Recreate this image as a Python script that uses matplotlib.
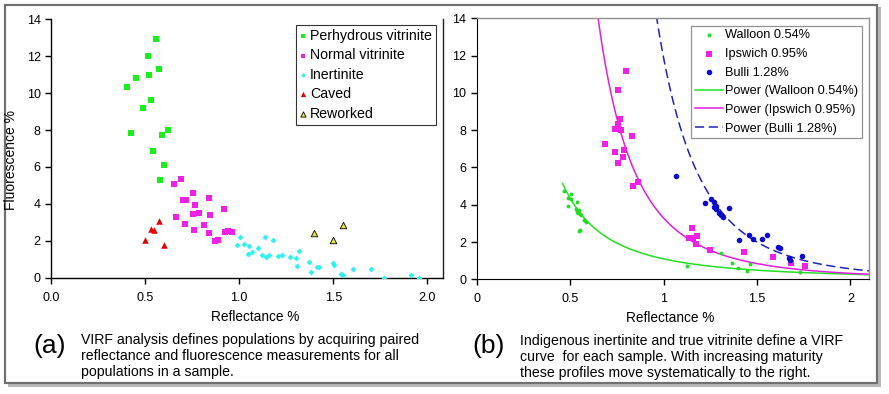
import numpy as np
import matplotlib
matplotlib.use("Agg")
import matplotlib.pyplot as plt
from matplotlib.patches import Rectangle

plt.rcParams['font.family'] = ['Liberation Sans', 'DejaVu Sans']

# ---- panel (a) data ----
perhyd_x = [0.558, 0.513, 0.574, 0.522, 0.450, 0.402, 0.529, 0.487, 0.425, 0.589,
            0.624, 0.540, 0.598, 0.577]
perhyd_y = [12.93, 12.0, 11.32, 11.0, 10.83, 10.35, 9.63, 9.21, 7.82, 7.73,
            8.0, 6.85, 6.10, 5.31]

normal_x = [0.653, 0.689, 0.752, 0.839, 0.699, 0.715, 0.766, 0.754, 0.788, 0.846,
            0.919, 0.666, 0.713, 0.761, 0.814, 0.839, 0.869, 0.885, 0.922, 0.942, 0.961]
normal_y = [5.09, 5.33, 4.60, 4.32, 4.19, 4.19, 3.92, 3.45, 3.50, 3.38,
            3.74, 3.29, 2.93, 2.60, 2.86, 2.42, 1.97, 2.04, 2.46, 2.51, 2.46]

inert_x = [1.004, 0.986, 1.027, 1.052, 1.046, 1.070, 1.100, 1.138, 1.180, 1.122,
           1.145, 1.159, 1.205, 1.225, 1.270, 1.303, 1.320, 1.306, 1.372, 1.383,
           1.411, 1.422, 1.497, 1.504, 1.541, 1.554, 1.604, 1.698, 1.772, 1.911, 1.956]
inert_y = [2.19, 1.79, 1.81, 1.70, 1.27, 1.38, 1.63, 2.20, 2.06, 1.23,
           1.14, 1.21, 1.16, 1.25, 1.12, 1.05, 1.46, 0.65, 0.85, 0.31,
           0.58, 0.58, 0.81, 0.69, 0.22, 0.15, 0.49, 0.49, 0.0, 0.16, 0.0]

caved_x = [0.501, 0.531, 0.549, 0.574, 0.602]
caved_y = [2.06, 2.65, 2.57, 3.07, 1.75]

rework_x = [1.397, 1.500, 1.551]
rework_y = [2.42, 2.04, 2.84]

# ---- panel (b) data ----
wall_x = [0.468, 0.487, 0.504, 0.503, 0.490, 0.536, 0.531, 0.549, 0.535, 0.551,
          0.542, 0.556, 0.583, 0.575, 0.551, 0.545, 1.128, 1.308, 1.365, 1.397,
          1.465, 1.449, 1.733]
wall_y = [4.74, 4.34, 4.58, 4.31, 3.95, 4.13, 3.77, 3.72, 3.59, 3.50,
          3.54, 3.45, 3.09, 3.18, 2.64, 2.59, 0.73, 1.39, 0.89, 0.62,
          0.80, 0.46, 0.41]

ips_x = [0.756, 0.797, 0.768, 0.756, 0.738, 0.772, 0.829, 0.686, 0.743, 0.789,
         0.784, 0.756, 0.838, 0.861, 1.155, 1.135, 1.159, 1.178, 1.173, 1.249,
         1.433, 1.584, 1.684, 1.759]
ips_y = [10.14, 11.17, 8.60, 8.33, 8.05, 7.99, 7.67, 7.26, 6.81, 6.94,
         6.54, 6.22, 5.00, 5.20, 2.74, 2.20, 2.22, 2.32, 1.89, 1.59,
         1.45, 1.21, 0.86, 0.73]

bulli_x = [1.066, 1.224, 1.255, 1.272, 1.269, 1.283, 1.297, 1.310, 1.321, 1.349,
           1.283, 1.404, 1.458, 1.481, 1.526, 1.556, 1.615, 1.624, 1.671, 1.676, 1.740]
bulli_y = [5.56, 4.09, 4.31, 4.16, 3.86, 3.76, 3.57, 3.47, 3.36, 3.84,
           3.95, 2.09, 2.36, 2.15, 2.15, 2.36, 1.72, 1.66, 1.14, 1.04, 1.25]

# power trendlines y = a * x^b (coefficients)
fit_labels = ['Power (Walloon 0.54%)', 'Power (Ipswich 0.95%)', 'Power (Bulli 1.28%)']
fit_a = [1.095, 3.29, 11.9]
fit_b = [-1.99, -3.36, -4.4]
fit_start = [0.46, 0.64, 0.95]

fig = plt.figure(figsize=(8.89, 3.94), dpi=100)
W, H = 889.0, 394.0

# outer frame with a soft shadow
fig.patches.append(Rectangle((8 / W, 1 - 387 / H), 873 / W, 380 / H, transform=fig.transFigure,
                             facecolor='#b8b8b8', edgecolor='none', zorder=0))
fig.patches.append(Rectangle((5 / W, 1 - 383 / H), 872 / W, 378 / H, transform=fig.transFigure,
                             facecolor='white', edgecolor='#707070', linewidth=1.6, zorder=1))

tick_kw = dict(labelsize=9, direction='out', length=4, width=1, colors='black')

# ---- panel (a) ----
ax1 = fig.add_axes([51 / W, 1 - 277.7 / H, (443 - 51) / W, (277.7 - 19.3) / H])
ax1.set_zorder(2)
ax1.scatter(perhyd_x, perhyd_y, marker='s', s=15, color='#19f019', linewidths=0,
            label='Perhydrous vitrinite', zorder=3)
ax1.scatter(normal_x, normal_y, marker='s', s=15, color='#f020e6', linewidths=0,
            label='Normal vitrinite', zorder=3)
ax1.scatter(inert_x, inert_y, marker='D', s=9, color='#30f0f0', linewidths=0,
            label='Inertinite', zorder=3)
ax1.scatter(caved_x, caved_y, marker='^', s=22, color='#e00000', linewidths=0,
            label='Caved', zorder=3)
ax1.scatter(rework_x, rework_y, marker='^', s=22, facecolor='#e6e640', edgecolor='black',
            linewidths=0.6, label='Reworked', zorder=3)
ax1.set_xlim(0, 2.083)
ax1.set_ylim(0, 14)
ax1.set_xticks([0, 0.5, 1.0, 1.5, 2.0])
ax1.set_xticklabels(['0.0', '0.5', '1.0', '1.5', '2.0'])
ax1.set_yticks(range(0, 15, 2))
ax1.tick_params(**tick_kw)
ax1.tick_params(axis='x', pad=6)
ax1.spines['top'].set_visible(False)
for s in ['left', 'bottom', 'right']:
    ax1.spines[s].set_linewidth(1.0)
ax1.spines['right'].set_color('#222222')
ax1.set_xlabel('Reflectance %', fontsize=9.8)
ax1.xaxis.set_label_coords(0.52, -0.125)
ax1.set_ylabel('Fluorescence %', fontsize=10)
ax1.yaxis.set_label_coords(-0.085, 0.455)
leg1 = ax1.legend(loc='upper right', bbox_to_anchor=(0.99, 0.99), fontsize=10.2,
                  frameon=True, fancybox=False, edgecolor='black', handlelength=0.4,
                  handletextpad=0.3, labelspacing=0.38, borderpad=0.3,
                  borderaxespad=0.2, markerscale=0.8)
leg1.get_frame().set_linewidth(0.8)

# ---- panel (b) ----
ax2 = fig.add_axes([476.7 / W, 1 - 279.3 / H, (869 - 476.7) / W, (279.3 - 18.3) / H])
ax2.set_zorder(2)
h_w = ax2.scatter(wall_x, wall_y, marker='o', s=8, color='#22dd22', linewidths=0,
                  label='Walloon 0.54%', zorder=3)
h_i = ax2.scatter(ips_x, ips_y, marker='s', s=16, color='#f020e6', linewidths=0,
                  label='Ipswich 0.95%', zorder=3)
h_b = ax2.scatter(bulli_x, bulli_y, marker='o', s=16, color='#0a0ad0', linewidths=0,
                  label='Bulli 1.28%', zorder=3)
fit_styles = [dict(color='#22e022', linestyle='-'),
              dict(color='#e020e0', linestyle='-'),
              dict(color='#2222b8', linestyle=(0, (6, 3)))]
fit_handles = []
for a, b, x0, lab, st in zip(fit_a, fit_b, fit_start, fit_labels, fit_styles):
    xs = np.linspace(x0, 2.1, 300)
    ln, = ax2.plot(xs, a * xs ** b, linewidth=1.1, label=lab, zorder=2, **st)
    fit_handles.append(ln)
ax2.set_xlim(0, 2.1)
ax2.set_ylim(0, 14)
ax2.set_xticks([0, 0.5, 1, 1.5, 2])
ax2.set_xticklabels(['0', '0.5', '1', '1.5', '2'])
ax2.set_yticks(range(0, 15, 2))
ax2.tick_params(**tick_kw)
ax2.tick_params(axis='x', pad=6)
for s in ['top', 'right']:
    ax2.spines[s].set_color('#909090')
    ax2.spines[s].set_linewidth(1.0)
ax2.set_xlabel('Reflectance %', fontsize=9.8)
ax2.xaxis.set_label_coords(0.493, -0.121)
leg2 = ax2.legend(handles=[h_w, h_i, h_b] + fit_handles, loc='upper right',
                  bbox_to_anchor=(0.988, 0.982), fontsize=9.2, frameon=True, fancybox=False,
                  edgecolor='#777777', handlelength=2.2, handletextpad=0.15,
                  labelspacing=0.52, borderpad=0.3, borderaxespad=0.2)
leg2.get_frame().set_linewidth(0.9)

# ---- captions ----
fig.text(50 / W, 1 - 346 / H, '(a)', fontsize=19, ha='center', va='center')
fig.text(81 / W, 1 - 356 / H,
         'VIRF analysis defines populations by acquiring paired\n'
         'reflectance and fluorescence measurements for all\n'
         'populations in a sample.',
         fontsize=10.2, ha='left', va='center', linespacing=1.2)
fig.text(489 / W, 1 - 346 / H, '(b)', fontsize=19, ha='center', va='center')
fig.text(520 / W, 1 - 357 / H,
         'Indigenous inertinite and true vitrinite define a VIRF\n'
         'curve  for each sample. With increasing maturity\n'
         'these profiles move systematically to the right.',
         fontsize=10.2, ha='left', va='center', linespacing=1.2)

fig.savefig('out.png', dpi=100)
